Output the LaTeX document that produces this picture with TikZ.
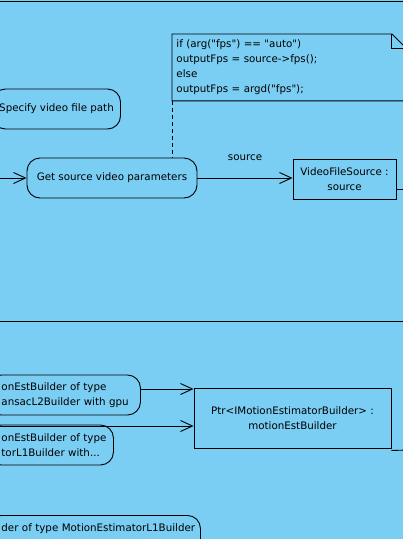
\documentclass[tikz,border=0pt]{standalone}
\usepackage{fontspec}
\newfontfamily\umlfont{DejaVu Sans}
\usetikzlibrary{arrows.meta}
\definecolor{diagbg}{RGB}{122,205,243}
\tikzset{
	action/.style={draw, rounded corners=13pt, minimum height=40pt, align=center, inner sep=3pt},
	cutbox/.style={action, align=left, inner xsep=13pt},
	objbox/.style={draw, rectangle, align=center, minimum height=40pt},
	notebox/.style={align=left, text width=225pt, inner xsep=4pt, minimum height=66pt},
	flow/.style={->}
}
\begin{document}
\begin{tikzpicture}[x=1pt, y=-1pt, line width=0.9pt,
		font=\umlfont\fontsize{10.3}{15}\selectfont,
		>={Straight Barb[length=12pt,width=11pt]}]
				\fill[diagbg] (0,0) rectangle (403,539);
				\useasboundingbox (0,0) rectangle (403,539);
				\clip (0,0) rectangle (403,539);
				% partition lines
				\draw (0,1) -- (403,1);
				\draw (0,321) -- (403,321);
				% video source part
				\node[action, minimum width=128pt] (specify) at (56.5,109) {Specify video file path};
				\node[action, minimum width=170pt] (getparams) at (112,178) {Get source video parameters};
				\node[objbox, minimum width=103pt] (vfsource) at (344.5,179) {VideoFileSource :\\ source};
				\node[notebox, anchor=north west] (fpsnote) at (172,34)
					{if (arg("fps") == "auto")\\ outputFps = source->fps();\\ else\\ outputFps = argd("fps");};
				\draw (fpsnote.south west) -- (fpsnote.north west) -- ([xshift=-14pt]fpsnote.north east)
					-- ([yshift=-14pt]fpsnote.north east) -- (fpsnote.south east) -- cycle;
				\draw ([xshift=-14pt]fpsnote.north east) |- ([yshift=-14pt]fpsnote.north east);
				\draw[line width=0.8pt, dash pattern=on 4pt off 3pt] (fpsnote.south west) -- (fpsnote.south west |- getparams.north);
				\coordinate (inget) at (-5,178);
				\coordinate (vfsout) at (410,189);
				\draw[flow] (inget) -- (getparams);
				\draw[flow] (getparams.east) -- (getparams.east -| vfsource.west)
					node[midway, above=14pt] (srclabel) {source};
				\draw ([yshift=-10pt]vfsource.east) -- (vfsout);
				% motion estimator part
				\node[cutbox, anchor=west, text width=126pt] (ransacgpu) at (-12,395)
					{\mbox{onEstBuilder of type}\\ \mbox{ansacL2Builder with gpu}};
				\node[cutbox, anchor=west, text width=99pt] (l1builder) at (-12,445)
					{\mbox{onEstBuilder of type}\\ \mbox{torL1Builder with...}};
				\node[cutbox, anchor=north west, text width=186pt] (l1default) at (-12,515)
					{\mbox{der of type MotionEstimatorL1Builder}\\ \mbox{}};
				\node[objbox, minimum width=197pt, minimum height=60pt] (motionest) at (292.5,418)
					{Ptr<IMotionEstimatorBuilder> :\\ motionEstBuilder};
				\coordinate (gpuout) at ([yshift=6pt]ransacgpu.east);
				\coordinate (inl1) at (-5,426);
				\coordinate (mebout) at (410,450);
				\draw[flow] (gpuout) -- (gpuout -| motionest.west);
				\draw[flow] (inl1) -- (inl1 -| motionest.west);
				\draw ([yshift=-2pt]motionest.south east) -- (mebout);
			\end{tikzpicture}
\end{document}
